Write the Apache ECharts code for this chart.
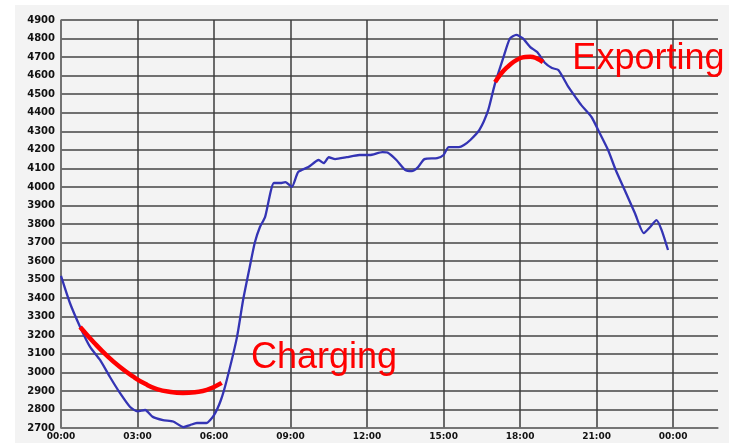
<!DOCTYPE html>
<html>
<head>
<meta charset="utf-8">
<script src="https://cdn.jsdelivr.net/npm/echarts@6/dist/echarts.min.js"></script>
<style>
  html, body { margin: 0; padding: 0; background: #fff; }
  #chart { width: 729px; height: 443px; }
</style>
</head>
<body>
<div id="chart"></div>
<script>
// hours of the day and the load
var hours = [0, 0.35, 0.75, 1.14, 1.53, 1.92, 2.31, 2.71, 3.0, 3.3, 3.6, 4.0, 4.4, 4.8, 5.06, 5.33, 5.7, 6.0, 6.27, 6.5, 6.9, 7.14, 7.4, 7.6, 7.8, 8.0, 8.35, 8.6, 8.8, 9.05, 9.3, 9.7, 10.1, 10.3, 10.5, 10.75, 11.2, 11.7, 12.1, 12.6, 12.8, 13.15, 13.5, 13.75, 14.0, 14.25, 14.75, 15.0, 15.2, 15.6, 15.8, 16.05, 16.4, 16.75, 17.0, 17.35, 17.6, 17.85, 18.1, 18.4, 18.67, 18.98, 19.25, 19.5, 19.9, 20.2, 20.4, 20.8, 21.1, 21.45, 21.75, 22.1, 22.5, 22.85, 23.1, 23.35, 23.55, 23.8];
var load = [3520, 3374, 3245, 3137, 3067, 2975, 2889, 2813, 2790, 2797, 2760, 2743, 2735, 2705, 2716, 2727, 2727, 2770, 2851, 2959, 3190, 3390, 3568, 3700, 3784, 3837, 4021, 4021, 4026, 4000, 4080, 4107, 4145, 4128, 4160, 4150, 4160, 4172, 4172, 4188, 4185, 4145, 4091, 4085, 4107, 4150, 4155, 4172, 4215, 4215, 4226, 4253, 4306, 4414, 4549, 4700, 4800, 4820, 4802, 4754, 4727, 4668, 4641, 4630, 4538, 4479, 4441, 4377, 4296, 4199, 4091, 3983, 3859, 3751, 3784, 3821, 3767, 3660];

// red hand-drawn annotation arcs
var chargeHours = [0.75, 1.3, 1.8, 2.3, 2.82, 3.3, 3.76, 4.3, 4.78, 5.25, 5.72, 6.3];
var chargeLoad = [3245, 3160, 3090, 3030, 2978, 2938, 2910, 2894, 2889, 2893, 2905, 2943];
var exportHours = [17.02, 17.25, 17.5, 17.75, 18.0, 18.2, 18.4, 18.65, 18.9];
var exportLoad = [4565, 4610, 4646, 4675, 4694, 4701, 4702, 4693, 4673];

var xTickLabels = ['00:00', '03:00', '06:00', '09:00', '12:00', '15:00', '18:00', '21:00', '00:00'];

function pairs(xs, ys) {
    var out = [];
    for (var i = 0; i < xs.length; i++) out.push([xs[i], ys[i]]);
    return out;
}

var chart = echarts.init(document.getElementById('chart'));

var option = {
    backgroundColor: '#fff',
    animation: false,
    graphic: [{
        type: 'rect',
        z: -10,
        shape: { x: 15, y: 5, width: 714, height: 438 },
        style: { fill: '#f3f3f3' }
    }],
    grid: { left: 61, right: 11, top: 20, bottom: 15, containLabel: false },
    xAxis: {
        type: 'value',
        min: 0,
        max: 25.76,
        interval: 3,
        axisLine: { show: true, lineStyle: { color: '#777', width: 1.5 } },
        axisTick: { show: false },
        axisLabel: {
            showMaxLabel: false,
            margin: 4,
            fontSize: 9,
            fontWeight: 'bold',
            color: '#111',
            fontFamily: 'DejaVu Sans',
            formatter: function (v) {
                var i = Math.round(v / 3);
                return Math.abs(v - i * 3) < 0.01 ? (xTickLabels[i] || '') : '';
            }
        },
        splitLine: { show: true, showMaxLine: false, lineStyle: { color: '#3c3c3c', width: 1.5 } }
    },
    yAxis: {
        type: 'value',
        min: 2700,
        max: 4900,
        interval: 100,
        axisLine: { show: true, lineStyle: { color: '#777', width: 1.5 } },
        axisTick: { show: false },
        axisLabel: {
            margin: 6,
            fontSize: 10,
            fontWeight: 'bold',
            color: '#111',
            fontFamily: 'DejaVu Sans',
            formatter: function (v) { return String(v); }
        },
        splitLine: { show: true, lineStyle: { color: '#444', width: 1.5 } }
    },
    series: [{
        name: 'Load',
        type: 'line',
        data: pairs(hours, load),
        showSymbol: false,
        smooth: 0.2,
        lineStyle: { color: '#3434b4', width: 2.3 },
        z: 3
    }, {
        name: 'Charging',
        type: 'line',
        data: pairs(chargeHours, chargeLoad),
        showSymbol: false,
        smooth: 0.5,
        lineStyle: { color: '#ff0000', width: 4.5 },
        z: 4,
        markPoint: {
            symbol: 'circle',
            symbolSize: 0,
            data: [{ coord: [7.45, 3077] }],
            label: {
                show: true,
                position: 'right',
                distance: 0,
                formatter: 'Charging',
                color: '#ff0000',
                fontSize: 36,
                fontFamily: 'Liberation Sans'
            }
        }
    }, {
        name: 'Exporting',
        type: 'line',
        data: pairs(exportHours, exportLoad),
        showSymbol: false,
        smooth: 0.5,
        lineStyle: { color: '#ff0000', width: 4.5 },
        z: 4,
        markPoint: {
            symbol: 'circle',
            symbolSize: 0,
            data: [{ coord: [20.05, 4690] }],
            label: {
                show: true,
                position: 'right',
                distance: 0,
                formatter: 'Exporting',
                color: '#ff0000',
                fontSize: 36,
                fontFamily: 'Liberation Sans'
            }
        }
    }]
};

chart.setOption(option);
</script>
</body>
</html>
